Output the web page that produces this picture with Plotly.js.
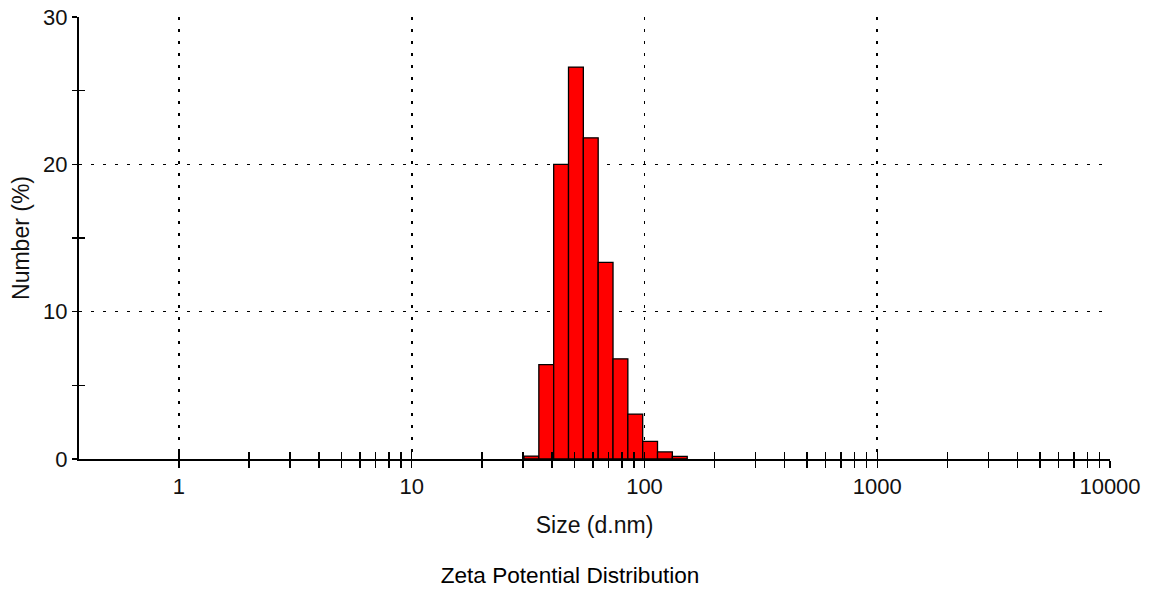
<!DOCTYPE html>
<html>
<head>
<meta charset="utf-8">
<script src="https://cdn.plot.ly/plotly-3.0.1.min.js"></script>
<style>
  html, body { margin: 0; padding: 0; background: #fff; }
  #chart { width: 1150px; height: 589px; }
</style>
</head>
<body>
<div id="chart"></div>
<script>
// Size classes (d.nm) – bin centres of the number distribution
const sizeClasses = [32.67, 37.84, 43.82, 50.75, 58.77, 68.06, 78.82, 91.28, 105.7, 122.4, 141.8];
// Number (%) in each size class
const numberPercent = [0.2, 6.4, 20.0, 26.6, 21.8, 13.35, 6.8, 3.05, 1.2, 0.48, 0.18];

// Axis ticks
const xTickVals = [1, 10, 100, 1000, 10000];
const xTickText = ['1', '10', '100', '1000', '10000'];
const yTickVals = [0, 10, 20, 30];

const xTitle = 'Size (d.nm)';
const yTitle = 'Number (%)';
const chartTitle = 'Zeta Potential Distribution';

const FONT = 'Liberation Sans, Arial, Helvetica, sans-serif';
const xRange = [-0.4296, 4.0];
const yRange = [0, 30];

// minor ticks: 2..9 inside each labelled decade
const xMinor = [];
for (let d = 0; d < xTickVals.length - 1; d++) {
  for (let m = 2; m <= 9; m++) xMinor.push(m * xTickVals[d]);
}

// bin edges (geometric midpoints between neighbouring size classes)
const lowerEdge = [], upperEdge = [];
for (let i = 0; i < sizeClasses.length; i++) {
  const prev = i > 0 ? sizeClasses[i - 1] : sizeClasses[i] * sizeClasses[i] / sizeClasses[i + 1];
  const next = i < sizeClasses.length - 1 ? sizeClasses[i + 1] : sizeClasses[i] * sizeClasses[i] / sizeClasses[i - 1];
  lowerEdge.push(Math.sqrt(prev * sizeClasses[i]));
  upperEdge.push(Math.sqrt(sizeClasses[i] * next));
}
const barWidth = sizeClasses.map((c, i) => upperEdge[i] - lowerEdge[i]);
const barOffset = sizeClasses.map((c, i) => lowerEdge[i] - c);

const traces = [
  {
    type: 'bar',
    x: sizeClasses,
    y: numberPercent,
    width: barWidth,
    offset: barOffset,
    marker: { color: '#ff0000', line: { color: '#000', width: 1.3 } },
    hoverinfo: 'x+y'
  },
  // empty helper trace so the overlay axes (inner half of crossing ticks) are drawn
  { type: 'scatter', x: [], y: [], xaxis: 'x2', yaxis: 'y2', showlegend: false, hoverinfo: 'skip' }
];

const tickStyle = { ticklen: 7, tickwidth: 1.5, tickcolor: '#000' };

const layout = {
  width: 1150,
  height: 589,
  margin: { l: 79, r: 40, t: 17, b: 130 },
  paper_bgcolor: '#fff',
  plot_bgcolor: '#fff',
  showlegend: false,
  bargap: 0,
  font: { family: FONT, color: '#111', size: 22 },
  title: {
    text: chartTitle,
    font: { family: FONT, size: 22.6, color: '#000' },
    x: 0.4957, xref: 'container', xanchor: 'center',
    y: 0.024, yref: 'container', yanchor: 'middle'
  },
  xaxis: Object.assign({
    type: 'log',
    range: xRange,
    tickmode: 'array', tickvals: xTickVals, ticktext: xTickText,
    ticks: 'outside',
    minor: Object.assign({ ticks: 'outside', tickmode: 'array', tickvals: xMinor, showgrid: false }, tickStyle),
    showline: true, linecolor: '#000', linewidth: 2,
    showgrid: true, gridcolor: '#000', gridwidth: 1.6, griddash: '3px,9px',
    zeroline: false,
    tickfont: { family: FONT, size: 22, color: '#111' },
    title: { text: xTitle, font: { family: FONT, size: 23, color: '#111' }, standoff: 18 },
    automargin: false
  }, tickStyle),
  xaxis2: Object.assign({
    type: 'log',
    overlaying: 'x',
    anchor: 'y2',
    range: xRange,
    tickmode: 'array', tickvals: xTickVals,
    ticks: 'inside',
    minor: Object.assign({ ticks: 'inside', tickmode: 'array', tickvals: xMinor, showgrid: false }, tickStyle),
    showticklabels: false, showline: false, showgrid: false, zeroline: false
  }, tickStyle),
  yaxis: {
    range: yRange,
    tickmode: 'array', tickvals: yTickVals,
    ticks: 'outside', ticklen: 5, tickwidth: 1.5, tickcolor: '#000',
    minor: { ticks: 'outside', ticklen: 5, tickwidth: 1.5, tickcolor: '#000', tickmode: 'linear', tick0: 5, dtick: 10, showgrid: false },
    showline: true, linecolor: '#000', linewidth: 2,
    showgrid: true, gridcolor: '#000', gridwidth: 1.6, griddash: '3px,9px',
    zeroline: false,
    tickfont: { family: FONT, size: 22, color: '#111' },
    title: { text: yTitle, font: { family: FONT, size: 23, color: '#111' }, standoff: 7 },
    automargin: false
  },
  yaxis2: {
    overlaying: 'y',
    anchor: 'x2',
    range: yRange,
    tickmode: 'array', tickvals: yTickVals,
    ticks: '',
    minor: { ticks: 'inside', ticklen: 6, tickwidth: 1.5, tickcolor: '#000', tickmode: 'linear', tick0: 5, dtick: 10, showgrid: false },
    showticklabels: false, showline: false, showgrid: false, zeroline: false
  }
};

Plotly.newPlot('chart', traces, layout, { displayModeBar: false, staticPlot: true });
</script>
</body>
</html>
